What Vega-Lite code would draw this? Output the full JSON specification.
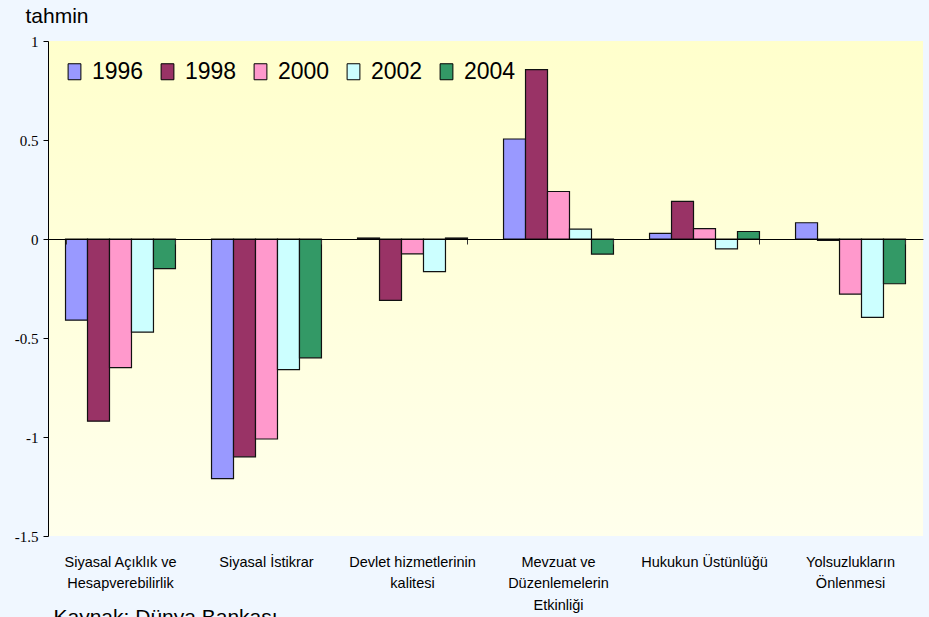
{
  "$schema": "https://vega.github.io/schema/vega-lite/v6.json",
  "width": 875,
  "height": 495,
  "autosize": {"type": "none"},
  "padding": {"left": 48, "top": 41, "right": 6, "bottom": 81},
  "background": "#F0F7FF",
  "config": {
    "view": {
      "stroke": null,
      "fill": {"gradient": "linear", "x1": 0, "y1": 0, "x2": 0, "y2": 1, "stops": [{"offset": 0, "color": "#FFFFCC"}, {"offset": 1, "color": "#FFFFEC"}]}
    },
    "font": "Liberation Sans"
  },
  "data": {
    "values": [
      {"k": "Siyasal Açıklık ve Hesapverebilirlik", "yil": "1996", "v": -0.41},
      {"k": "Siyasal Açıklık ve Hesapverebilirlik", "yil": "1998", "v": -0.92},
      {"k": "Siyasal Açıklık ve Hesapverebilirlik", "yil": "2000", "v": -0.65},
      {"k": "Siyasal Açıklık ve Hesapverebilirlik", "yil": "2002", "v": -0.47},
      {"k": "Siyasal Açıklık ve Hesapverebilirlik", "yil": "2004", "v": -0.15},
      {"k": "Siyasal İstikrar", "yil": "1996", "v": -1.21},
      {"k": "Siyasal İstikrar", "yil": "1998", "v": -1.1},
      {"k": "Siyasal İstikrar", "yil": "2000", "v": -1.01},
      {"k": "Siyasal İstikrar", "yil": "2002", "v": -0.66},
      {"k": "Siyasal İstikrar", "yil": "2004", "v": -0.6},
      {"k": "Devlet hizmetlerinin kalitesi", "yil": "1996", "v": 0.005},
      {"k": "Devlet hizmetlerinin kalitesi", "yil": "1998", "v": -0.31},
      {"k": "Devlet hizmetlerinin kalitesi", "yil": "2000", "v": -0.075},
      {"k": "Devlet hizmetlerinin kalitesi", "yil": "2002", "v": -0.165},
      {"k": "Devlet hizmetlerinin kalitesi", "yil": "2004", "v": 0.005},
      {"k": "Mevzuat ve Düzenlemelerin Etkinliği", "yil": "1996", "v": 0.505},
      {"k": "Mevzuat ve Düzenlemelerin Etkinliği", "yil": "1998", "v": 0.855},
      {"k": "Mevzuat ve Düzenlemelerin Etkinliği", "yil": "2000", "v": 0.24},
      {"k": "Mevzuat ve Düzenlemelerin Etkinliği", "yil": "2002", "v": 0.05},
      {"k": "Mevzuat ve Düzenlemelerin Etkinliği", "yil": "2004", "v": -0.076},
      {"k": "Hukukun Üstünlüğü", "yil": "1996", "v": 0.028},
      {"k": "Hukukun Üstünlüğü", "yil": "1998", "v": 0.19},
      {"k": "Hukukun Üstünlüğü", "yil": "2000", "v": 0.052},
      {"k": "Hukukun Üstünlüğü", "yil": "2002", "v": -0.05},
      {"k": "Hukukun Üstünlüğü", "yil": "2004", "v": 0.038},
      {"k": "Yolsuzlukların Önlenmesi", "yil": "1996", "v": 0.082},
      {"k": "Yolsuzlukların Önlenmesi", "yil": "1998", "v": -0.007},
      {"k": "Yolsuzlukların Önlenmesi", "yil": "2000", "v": -0.278},
      {"k": "Yolsuzlukların Önlenmesi", "yil": "2002", "v": -0.396},
      {"k": "Yolsuzlukların Önlenmesi", "yil": "2004", "v": -0.226}
    ]
  },
  "layer": [
    {
      "mark": {"type": "bar", "stroke": "#111", "strokeWidth": 1.2},
      "encoding": {
        "x": {
          "field": "k", "type": "nominal", "sort": null,
          "scale": {"paddingInner": 0.247, "paddingOuter": 0.12},
          "axis": {"orient": "bottom", "offset": -297, "labels": false, "title": null, "domainColor": "#000", "domainWidth": 1, "tickColor": "#333", "tickSize": 5, "tickBand": "extent", "zindex": 1}
        },
        "xOffset": {"field": "yil", "type": "nominal", "scale": {"paddingInner": 0, "paddingOuter": 0}},
        "y": {
          "field": "v", "type": "quantitative",
          "scale": {"domain": [-1.5, 1], "nice": false, "zero": false},
          "axis": {
            "values": [-1.5, -1, -0.5, 0, 0.5, 1],
            "labelExpr": "toString(datum.value)",
            "grid": false,
            "domainColor": "#000", "tickColor": "#000", "tickSize": 5,
            "labelFont": "Liberation Serif", "labelFontSize": 15, "labelColor": "#000", "labelPadding": 5,
            "title": "tahmin", "titleAngle": 0, "titleAlign": "left", "titleBaseline": "middle",
            "titleX": -23, "titleY": -25, "titleFont": "Liberation Sans", "titleFontSize": 21,
            "titleFontWeight": "normal", "titleColor": "#000"
          }
        },
        "color": {
          "field": "yil", "type": "nominal",
          "scale": {"domain": ["1996", "1998", "2000", "2002", "2004"], "range": ["#9999FF", "#993366", "#FF99CC", "#CCFFFF", "#339966"]},
          "legend": {
            "orient": "none", "legendX": 15, "legendY": 19, "direction": "horizontal", "title": null,
            "symbolType": "M-0.8,-1H0.8V1H-0.8Z", "symbolSize": 256,
            "symbolStrokeColor": "#000", "symbolStrokeWidth": 1, "symbolOpacity": 1,
            "labelFont": "Liberation Sans", "labelFontSize": 23, "labelColor": "#000",
            "labelOffset": 6, "columnPadding": 12, "padding": 0
          }
        }
      }
    },
    {
      "mark": {"type": "text", "text": ""},
      "encoding": {
        "x": {
          "field": "k", "type": "nominal", "sort": null,
          "axis": {
            "orient": "bottom", "domain": false, "ticks": false, "labelAngle": 0, "labelLimit": 0,
            "labelFont": "Liberation Sans", "labelFontSize": 14.5,
            "labelColor": "#000", "labelBaseline": "top", "labelPadding": 19, "labelLineHeight": 21.5,
            "labelExpr": "datum.value == 'Siyasal Açıklık ve Hesapverebilirlik' ? ['Siyasal Açıklık ve', 'Hesapverebilirlik'] : datum.value == 'Devlet hizmetlerinin kalitesi' ? ['Devlet hizmetlerinin', 'kalitesi'] : datum.value == 'Mevzuat ve Düzenlemelerin Etkinliği' ? ['Mevzuat ve', 'Düzenlemelerin', 'Etkinliği'] : datum.value == 'Yolsuzlukların Önlenmesi' ? ['Yolsuzlukların', 'Önlenmesi'] : datum.value",
            "title": "Kaynak: Dünya Bankası", "titleAnchor": "start", "titleAlign": "left", "titleBaseline": "alphabetic",
            "titleX": 5, "titleY": 87, "titleFont": "Liberation Sans", "titleFontSize": 21,
            "titleFontWeight": "normal", "titleColor": "#000"
          }
        }
      }
    }
  ],
  "resolve": {"axis": {"x": "independent"}}
}
